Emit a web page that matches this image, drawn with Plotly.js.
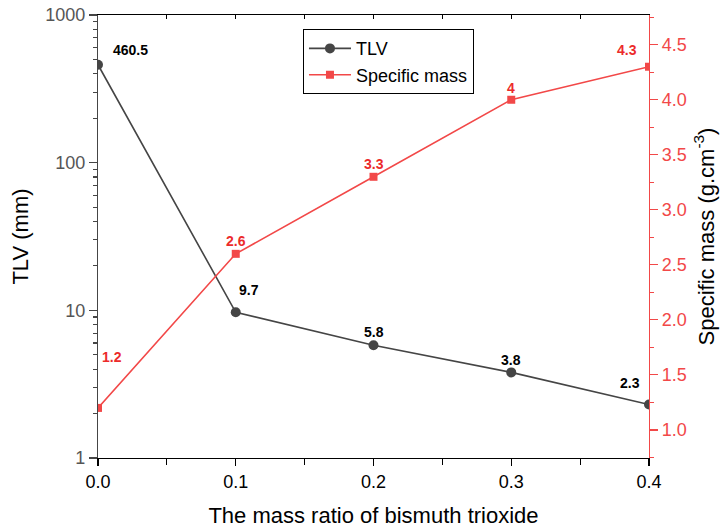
<!DOCTYPE html>
<html>
<head>
<meta charset="utf-8">
<script src="https://cdn.plot.ly/plotly-3.0.1.min.js"></script>
<style>html,body{margin:0;padding:0;background:#fff;}#chart{width:721px;height:530px;}</style>
</head>
<body>
<div id="chart"></div>
<script>
// Data
var massRatio = [0.0, 0.1, 0.2, 0.3, 0.4];
var tlv = [460.5, 9.7, 5.8, 3.8, 2.3];
var specificMass = [1.2, 2.6, 3.3, 4.0, 4.3];
var leftTickVals = [1, 10, 100, 1000];
var leftTickText = ['1', '10', '100', '1000'];

// Label offsets (pixels) - styling
var tlvLabelDx = [32, 13, 0, 0, -19];
var tlvLabelDy = [15, 22, 13, 12, 22];
var smLabelDx = [14, 0, 0, 0, -22];
var smLabelDy = [51, 13, 13, 12, 17];

var grey = '#454545';
var red = '#f24848';
var redText = '#ec2b2b';
var FONT = 'Liberation Sans, Arial, sans-serif';

var traces = [
  {x: massRatio, y: tlv, name: 'TLV', type: 'scatter', mode: 'lines+markers',
   line: {color: grey, width: 1.6}, marker: {symbol: 'circle', size: 10, color: grey},
   xaxis: 'x', yaxis: 'y'},
  {x: massRatio, y: specificMass, name: 'Specific mass', type: 'scatter', mode: 'lines+markers',
   line: {color: red, width: 1.6}, marker: {symbol: 'square', size: 8, color: red},
   xaxis: 'x', yaxis: 'y2'},
  {x: [massRatio[0]], y: [tlv[0]], type: 'scatter', mode: 'markers', showlegend: false,
   hoverinfo: 'skip', marker: {opacity: 0}, xaxis: 'x2', yaxis: 'y'}
];

var annotations = [];
for (var i = 0; i < massRatio.length; i++) {
  annotations.push({x: massRatio[i], y: Math.log10(tlv[i]), xref: 'x', yref: 'y',
    text: String(tlv[i]), showarrow: false, xshift: tlvLabelDx[i], yshift: tlvLabelDy[i],
    font: {family: FONT, size: 14, color: '#000', weight: 'bold'}});
  annotations.push({x: massRatio[i], y: specificMass[i], xref: 'x', yref: 'y2',
    text: String(specificMass[i]), showarrow: false, xshift: smLabelDx[i], yshift: smLabelDy[i],
    font: {family: FONT, size: 14, color: redText, weight: 'bold'}});
}

var layout = {
  width: 721, height: 530,
  margin: {l: 98, r: 72, t: 15, b: 72, pad: 0},
  paper_bgcolor: '#fff', plot_bgcolor: '#fff',
  font: {family: FONT, color: '#000'},
  showlegend: true,
  legend: {x: 0.372, y: 0.968, xanchor: 'left', yanchor: 'top', bgcolor: '#fff',
    bordercolor: '#000', borderwidth: 1, font: {family: FONT, size: 18, color: '#000'},
    tracegroupgap: 0, itemwidth: 42},
  xaxis: {range: [0, 0.4], dtick: 0.1, tick0: 0, tickformat: '.1f',
    showgrid: false, zeroline: false, showline: true, linecolor: '#000', linewidth: 1.2,
    ticks: 'outside', ticklen: 7, tickwidth: 1.2, tickcolor: '#000',
    minor: {dtick: 0.05, ticks: 'outside', ticklen: 6, tickcolor: '#000', tickwidth: 1.2, showgrid: false},
    tickfont: {family: FONT, size: 18, color: '#000'},
    title: {text: 'The mass ratio of bismuth trioxide', font: {family: FONT, size: 22, color: '#000'}, standoff: 16}
  },
  xaxis2: {overlaying: 'x', side: 'top', anchor: 'y', range: [0, 0.4], dtick: 0.05,
    showgrid: false, zeroline: false, showline: true, linecolor: '#000', linewidth: 1.2,
    ticks: 'inside', ticklen: 4, tickwidth: 1.2, tickcolor: '#000', showticklabels: false},
  yaxis: {type: 'log', range: [0, 3], tickvals: leftTickVals, ticktext: leftTickText,
    showgrid: false, zeroline: false, showline: true, linecolor: grey, linewidth: 1.2,
    ticks: 'outside', ticklen: 8, tickwidth: 1.2, tickcolor: grey,
    minor: {dtick: 'D1', ticks: 'outside', ticklen: 4, tickcolor: grey, tickwidth: 1.2, showgrid: false},
    tickfont: {family: FONT, size: 18, color: '#555'},
    title: {text: 'TLV (mm)', font: {family: FONT, size: 22, color: '#000'}, standoff: 10}
  },
  yaxis2: {overlaying: 'y', side: 'right', anchor: 'x', range: [0.745, 4.77], dtick: 0.5, tick0: 1,
    tickformat: '.1f', showgrid: false, zeroline: false, showline: true, linecolor: red, linewidth: 1.2,
    ticks: 'outside', ticklen: 8, tickwidth: 1.2, tickcolor: red,
    minor: {dtick: 0.25, ticks: 'outside', ticklen: 4, tickcolor: red, tickwidth: 1.2, showgrid: false},
    tickfont: {family: FONT, size: 18, color: red},
    title: {text: 'Specific mass (g.cm<sup>-3</sup>)', font: {family: FONT, size: 22, color: '#000'}, standoff: 12}
  },
  annotations: annotations
};

Plotly.newPlot('chart', traces, layout, {staticPlot: true, displayModeBar: false});
</script>
</body>
</html>
